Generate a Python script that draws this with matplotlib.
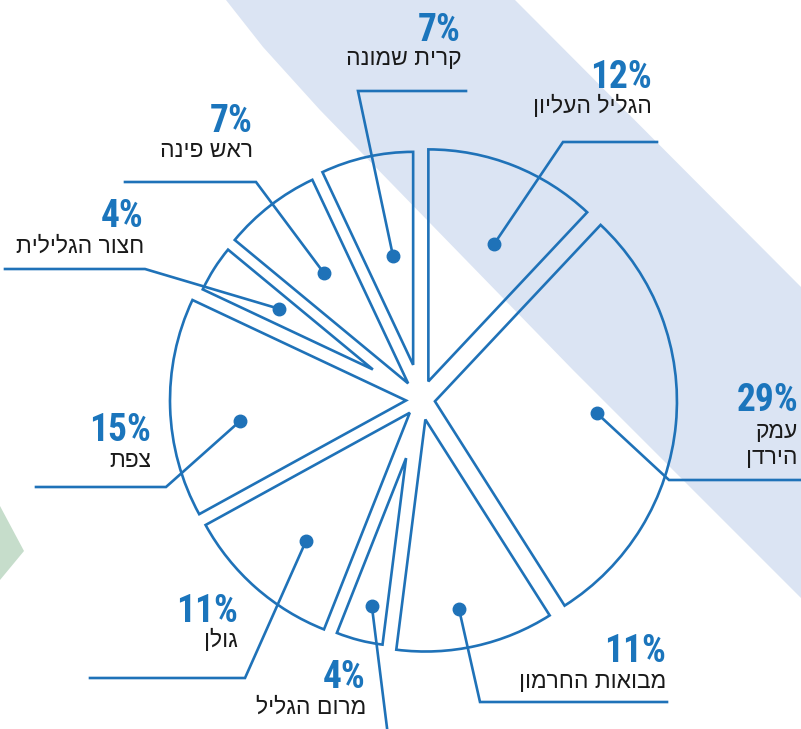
import matplotlib
matplotlib.use("Agg")
import matplotlib.pyplot as plt
import numpy as np
from matplotlib import font_manager
from matplotlib.patches import Polygon

# data: regions and their share (percent)
regions = ["הגליל העליון", "עמק הירדן", "מבואות החרמון", "מרום הגליל", "גולן",
           "צפת", "חצור הגלילית", "ראש פינה", "קרית שמונה"]
shares = [12, 29, 11, 4, 11, 15, 4, 7, 7]
pct_labels = ["12%", "29%", "11%", "4%", "11%", "15%", "4%", "7%", "7%"]
# lines of each label (for line breaks)
name_lines = [["הגליל העליון"], ["עמק", "הירדן"], ["מבואות החרמון"], ["מרום הגליל"], ["גולן"],
              ["צפת"], ["חצור הגלילית"], ["ראש פינה"], ["קרית שמונה"]]

# layout (image pixel coords, y down)
W, H = 801, 729
CX, CY = 421, 400
explode = [20, 14, 20, 60, 17, 15, 57, 21, 36]      # pixels
radii = [232, 242, 232, 188, 233, 236, 188, 225, 213]
dot_r = [172, 176, 212, 212, 182, 182, 169, 160, 147]
dot_da = [3.5, -1.2, 2.3, -1.0, -2.2, -4.8, 0.3, 0.4, 1.6]   # degrees off the bisector
elbows = [(563, 142), (669, 480), (480, 702), (391, 760), (245, 678),
          (166, 487), (145, 269), (256, 182), (358, 91)]
line_end = [657, 801, 667, 391, 90, 36, 5, 125, 466]
# label anchors: right edge x, percent center y, first name line center y
label_pos = [(652, 77, 106), (798, 400, 431), (666, 651, 682), (366, 678, 707),
             (238, 611, 640), (151, 430, 460), (144, 216, 246), (253, 121, 150),
             (461, 30, 58)]

BLUE = "#1f72b8"
PCT_BLUE = "#1b75bc"
BAND = "#dbe4f3"
GREEN = "#c6ddcb"

avail = {f.name for f in font_manager.fontManager.ttflist}
pct_font = dict(family="DejaVu Sans", stretch="condensed", weight="bold")
for cand in ["Liberation Sans Narrow", "DejaVu Sans Condensed", "Roboto Condensed"]:
    if cand in avail:
        pct_font = dict(family=cand, weight="bold")
        break
heb_font = "Liberation Sans" if "Liberation Sans" in avail else "DejaVu Sans"


def vis(s):
    # matplotlib has no bidi support: reverse Hebrew for display
    return s[::-1]


fig = plt.figure(figsize=(W / 100, H / 100), dpi=100)
ax = fig.add_axes([0, 0, 1, 1])

# background band and green shape
band = Polygon([(226, 0), (263, 47), (320, 110), (573, 370), (801, 598),
                (801, 287), (515, 0)], closed=True, facecolor=BAND, edgecolor="none", zorder=0)
ax.add_patch(band)
ax.add_patch(Polygon([(0, 506), (24, 551), (0, 580)], closed=True,
                     facecolor=GREEN, edgecolor="none", zorder=0))

wedges, _ = ax.pie(shares, explode=explode, startangle=-90, counterclock=True,
                   center=(CX, CY), radius=250,
                   wedgeprops=dict(fill=False, edgecolor=BLUE, linewidth=1.9))
for w, r in zip(wedges, radii):
    w.set_radius(r)
    w.set_zorder(2)

cum = np.cumsum([0] + shares[:-1])
mids = -90 + 3.6 * (cum + np.array(shares) / 2)

for i in range(len(shares)):
    a = np.deg2rad(mids[i] + dot_da[i])
    dx = CX + dot_r[i] * np.cos(a)
    dy = CY + dot_r[i] * np.sin(a)
    ex, ey = elbows[i]
    ax.plot([dx, ex, line_end[i]], [dy, ey, ey], color=BLUE, lw=1.9, zorder=3,
            solid_joinstyle="miter")
    ax.plot(dx, dy, "o", color=BLUE, ms=9, zorder=4)

    rx, py, ny = label_pos[i]
    ax.text(rx, py, pct_labels[i], ha="right", va="center", color=PCT_BLUE,
            fontsize=27, zorder=5, **pct_font)
    for k, ln in enumerate(name_lines[i]):
        ax.text(rx, ny + 26 * k, vis(ln), ha="right", va="center", color="#1a1a1a",
                fontsize=16.5, family=[heb_font, "DejaVu Sans"], zorder=5)

ax.set_xlim(0, W)
ax.set_ylim(H, 0)
ax.set_aspect("equal")
ax.axis("off")

fig.savefig("out.png", dpi=100)
